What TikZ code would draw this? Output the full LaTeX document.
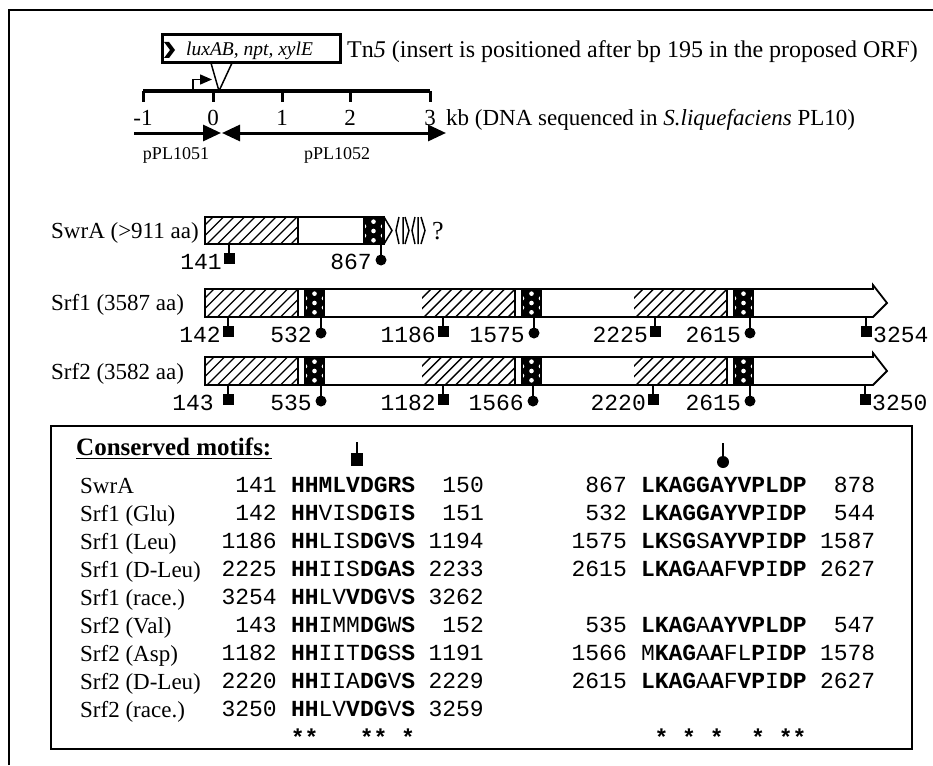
\documentclass[tikz,border=0pt]{standalone}
\usepackage{fontspec}
\setmainfont{Liberation Serif}
\setmonofont{Liberation Mono}
\usetikzlibrary{arrows.meta}
\newcommand\B[1]{{\bfseries #1}}
% hatched rectangle: x0, x1, ytop, ybot
\newcommand\hatchbox[4]{%
  \begin{scope}
    \clip (#1,#3) rectangle (#2,#4);
    \foreach \u in {-40,-29.5,...,110}{\draw[hline] (#1+\u,#4) -- (#1+\u+#4-#3,#3);}
  \end{scope}
}
\newcommand\chk[2]{%
  \fill[black] (#1,#2) rectangle (#1+19,#2+28);
  \begin{scope}
    \clip (#1,#2) rectangle (#1+19,#2+28);
    \foreach \k in {0,1,2}{\fill[white] (#1+9.5,#2+4.67+9.33*\k) circle (2.3pt);}
    \foreach \k in {1,2}{\fill[white] (#1,#2+9.33*\k) circle (2.3pt); \fill[white] (#1+19,#2+9.33*\k) circle (2.3pt);}
  \end{scope}
  \draw[outline] (#1,#2) -- (#1,#2+28) (#1+19,#2) -- (#1+19,#2+28);
}
\newcommand\srf[1]{%
  \foreach \s in {205,422,634}{
    \hatchbox{\s}{\s+93}{#1}{#1+28}
    \draw[outline] (\s+93,#1) -- (\s+93,#1+28);
    \chk{\s+100}{#1}
  }
  \draw[outline,line join=miter] (873,#1-4) -- (873,#1) -- (205,#1) -- (205,#1+28) -- (873,#1+28) -- (887,#1+14) -- cycle;
}
\newcommand\msq[2]{\draw[stem] (#1,#2) -- (#1,#2+10); \fill (#1-5.5,#2+9) rectangle (#1+5.5,#2+20);}
\newcommand\mci[2]{\draw[stem] (#1,#2) -- (#1,#2+12); \fill (#1,#2+16) circle (5.5pt);}
\newcommand\lsq[3]{\node[cr,anchor=base east] at (#1-7,#2+25) {#3};}
\newcommand\lci[3]{\node[cr,anchor=base east] at (#1-9,#2+25) {#3};}
\newcommand\row[8]{%
  \node[tm,anchor=base west] at (80,493+28.05*#1) {#2};
  \node[cr,anchor=base east] at (277,492.5+28.05*#1) {#3};
  \node[cr,anchor=base west] at (290.8,492.5+28.05*#1) {#4};
  \node[cr,anchor=base east] at (484,492.5+28.05*#1) {#5};
  \node[cr,anchor=base east] at (627,492.5+28.05*#1) {#6};
  \node[cr,anchor=base west] at (640.8,492.5+28.05*#1) {#7};
  \node[cr,anchor=base east] at (875.4,492.5+28.05*#1) {#8};
}
\begin{document}
\begin{tikzpicture}[x=1pt,y=-1pt,
  tm/.style={font=\fontsize{23}{27}\selectfont, inner sep=0pt},
  tmsmall/.style={font=\fontsize{18}{22}\selectfont, inner sep=0pt},
  cr/.style={font=\ttfamily\fontsize{23}{27}\selectfont, inner sep=0pt},
  hline/.style={line width=1.4pt},
  outline/.style={line width=1.8pt},
  stem/.style={line width=1.5pt},
]
\useasboundingbox (0,0) rectangle (933,765);
\fill[white] (0,0) rectangle (933,765);
% frame
\draw[line width=2.5pt] (9,765) -- (9,10) -- (933,10);

% Tn5 box
\node[draw, line width=3pt, minimum width=178pt, minimum height=28pt, inner sep=0pt] (tn) at (251,49) {};
\fill (164,42) -- (169,42) -- (175,50) -- (169,58) -- (164,58) -- (170,50) -- cycle;
\node[font=\itshape\fontsize{19.5}{22}\selectfont, anchor=base west, inner sep=0pt] (tnt) at (186,55.5) {luxAB, npt, xylE};
\node[font=\fontsize{24}{28}\selectfont, inner sep=0pt, anchor=base west] (tnl) at (347,57.5) {Tn\textit{5} (insert is positioned after bp 195 in the proposed ORF)};
\draw[line width=1.5pt] (211,63) -- (219,91) -- (232,63);
% promoter
\draw[line width=1.5pt, -{Triangle[length=12pt,width=10pt]}] (193,91) -- (193,79.5) -- (212,79.5);
% scale
\draw[line width=4pt] (143,91) -- (430,91);
\foreach \x/\t in {143/-1,213/0,282/1,350/2,430/3}{
  \draw[line width=3pt] (\x,91) -- (\x,102);
  \node[tm, anchor=base] at (\x,125) {\t};
}
\node[tm, anchor=base west] (kb) at (446,125) {kb (DNA sequenced in \textit{S.liquefaciens} PL10)};
% clones
\draw[line width=3pt, -{Triangle[length=18pt,width=16pt]}] (134,133) -- (221,133);
\draw[line width=3pt, {Triangle[length=18pt,width=16pt]}-{Triangle[length=18pt,width=16pt]}] (222,133) -- (446,133);
\node[tmsmall, anchor=base] (p1) at (176,159) {pPL1051};
\node[tmsmall, anchor=base] (p2) at (337,159) {pPL1052};

% SwrA
\node[tm, anchor=base west] (swra) at (51,238) {SwrA (>911 aa)};
\hatchbox{205}{298}{217}{244}
\draw[outline] (298,217) -- (298,244);
\chk{364}{217}
\draw[outline] (205,217) rectangle (384,244);
\draw[line width=1.5pt] (384,217) -- (392,230.5) -- (384,244);
\draw[line width=1.5pt] (399,217) -- (396,230.5) -- (399,244) (403,217) -- (403,244) (405,217) -- (409,230.5) -- (405,244);
\draw[line width=1.5pt] (415,217) -- (412,230.5) -- (415,244) (418,217) -- (418,244) (421,217) -- (425,230.5) -- (421,244);
\node[font=\fontsize{26}{30}\selectfont, inner sep=0pt, anchor=base] at (438,239) {?};
\msq{229}{244} \lsq{229}{244}{141}
\mci{381}{244} \lci{381}{244}{867}

% Srf1
\node[tm, anchor=base west] (srf1) at (51,310.5) {Srf1 (3587 aa)};
\srf{289}
\msq{228}{317} \lsq{228}{317}{142}
\mci{321}{317} \lci{321}{317}{532}
\msq{443}{317} \lsq{443}{317}{1186}
\mci{534}{317} \lci{534}{317}{1575}
\msq{655}{317} \lsq{655}{317}{2225}
\mci{750}{317} \lci{750}{317}{2615}
\msq{866}{317} \node[cr,anchor=base west] at (873,342) {3254};

% Srf2
\node[tm, anchor=base west] (srf2) at (51,379) {Srf2 (3582 aa)};
\srf{357}
\msq{228}{385} \lsq{221}{385}{143}
\mci{321}{385} \lci{321}{385}{535}
\msq{443}{385} \lsq{443}{385}{1182}
\mci{533}{385} \lci{533}{385}{1566}
\msq{653}{385} \lsq{653}{385}{2220}
\mci{750}{385} \lci{750}{385}{2615}
\msq{865}{385} \node[cr,anchor=base west] at (872,410) {3250};

% table
\draw[line width=2.5pt] (51,426) rectangle (912,749);
\node[font=\bfseries\fontsize{25}{29}\selectfont, anchor=base west, inner sep=0pt] (hdr) at (76,455) {Conserved motifs:};
\draw[line width=1.5pt] ([yshift=-3.5pt]hdr.base west) -- ([yshift=-3.5pt]hdr.base east);
\draw[stem] (357,442) -- (357,455); \fill (351,453) rectangle (363,466);
\draw[stem] (723,443) -- (723,456); \fill (723,462) circle (6pt);

\row{0}{SwrA}{141}{\B{HHMLVDGRS}}{150}{867}{\B{LKAGGAYVPLDP}}{878}
\row{1}{Srf1 (Glu)}{142}{\B{HH}VIS\B{DG}I\B{S}}{151}{532}{\B{LKAGGAYVP}I\B{DP}}{544}
\row{2}{Srf1 (Leu)}{1186}{\B{HH}LIS\B{DG}V\B{S}}{1194}{1575}{\B{LK}S\B{G}S\B{AYVP}I\B{DP}}{1587}
\row{3}{Srf1 (D-Leu)}{2225}{\B{HH}IIS\B{DGAS}}{2233}{2615}{\B{LKAG}A\B{A}F\B{VP}I\B{DP}}{2627}
\row{4}{Srf1 (race.)}{3254}{\B{HH}LV\B{VDG}V\B{S}}{3262}{}{}{}
\row{5}{Srf2 (Val)}{143}{\B{HH}IMM\B{DG}W\B{S}}{152}{535}{\B{LKAG}A\B{AYVPLDP}}{547}
\row{6}{Srf2 (Asp)}{1182}{\B{HH}IIT\B{DG}S\B{S}}{1191}{1566}{M\B{KAG}A\B{A}FL\B{P}I\B{DP}}{1578}
\row{7}{Srf2 (D-Leu)}{2220}{\B{HH}IIA\B{DG}V\B{S}}{2229}{2615}{\B{LKAG}A\B{A}F\B{VP}I\B{DP}}{2627}
\row{8}{Srf2 (race.)}{3250}{\B{HH}LV\B{VDG}V\B{S}}{3259}{}{}{}
\foreach \i in {0,1,5,6,8}{\node[cr, font=\ttfamily\bfseries\fontsize{23}{27}\selectfont, anchor=base] at (290.8+13.8*\i+6.9,745) {*};}
\foreach \i in {1,3,5,8,10,11}{\node[cr, font=\ttfamily\bfseries\fontsize{23}{27}\selectfont, anchor=base] at (640.8+13.8*\i+6.9,745) {*};}
\end{tikzpicture}
\end{document}
